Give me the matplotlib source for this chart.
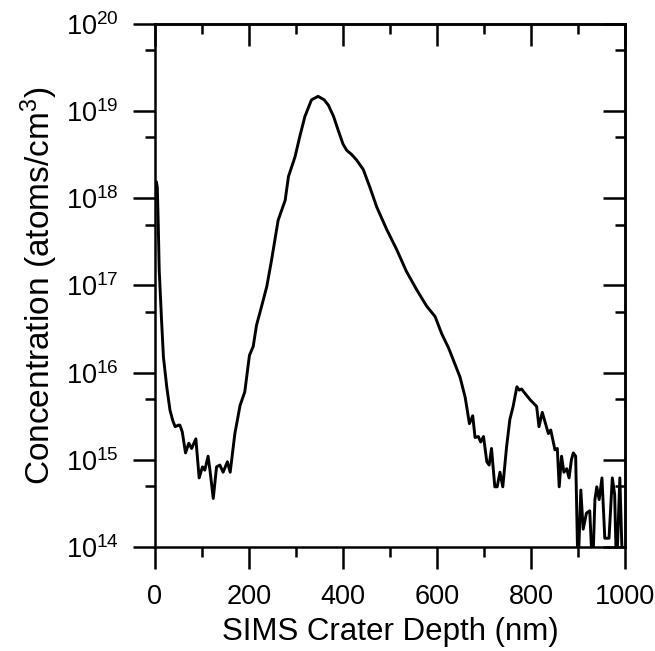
"""SIMS depth profile: concentration vs crater depth."""

import matplotlib
matplotlib.use("Agg")
import matplotlib.pyplot as plt
from matplotlib.ticker import FixedLocator, LogLocator, NullFormatter

plt.rcParams["font.family"] = ["Liberation Sans", "DejaVu Sans"]
plt.rcParams["mathtext.fontset"] = "custom"
plt.rcParams["mathtext.rm"] = "Liberation Sans"
plt.rcParams["mathtext.it"] = "Liberation Sans:italic"
plt.rcParams["mathtext.bf"] = "Liberation Sans:bold"

# depth (nm) and concentration (atoms/cm^3)
depth = [
    0, 3, 5, 7, 9, 14, 18, 25, 32, 38, 43, 50, 53, 58, 65, 72, 78, 87, 94,
    101, 106, 113, 117, 124, 131, 138, 145, 154, 160, 170, 181, 191, 201,
    209, 216, 227, 238, 248, 262, 277, 284, 298, 308, 319, 333, 347, 360,
    369, 380, 390, 400, 408, 418, 429, 443, 457, 472, 493, 514, 535, 557,
    578, 596, 610, 625, 637, 649, 660, 669, 676, 681, 688, 693, 699, 706,
    711, 716, 723, 728, 734, 740, 748, 755, 762, 770, 775, 780, 787, 798,
    812, 817, 824, 837, 842, 851, 856, 860, 865, 870, 876, 881, 886, 890,
    895, 900, 906, 911, 918, 925, 931, 936, 940, 945, 951, 957, 966, 973,
    978, 982, 989, 995, 998,
]
concentration = [
    1.26e18, 1.55e18, 1.32e18, 5.0e17, 1.51e17, 3.98e16, 1.51e16, 6.9e15,
    3.7e15, 2.8e15, 2.4e15, 2.5e15, 2.5e15, 2.1e15, 1.2e15, 1.55e15, 1.35e15,
    1.74e15, 6.2e14, 8.3e14, 7.6e14, 1.1e15, 7.6e14, 3.6e14, 8.3e14, 8.7e14,
    7.2e14, 9.5e14, 7.2e14, 2.0e15, 4.2e15, 6.0e15, 1.58e16, 2.0e16, 3.5e16,
    5.8e16, 9.8e16, 1.95e17, 5.6e17, 9.5e17, 1.78e18, 3.0e18, 5.1e18, 8.7e18,
    1.35e19, 1.48e19, 1.35e19, 1.17e19, 8.7e18, 6.0e18, 4.2e18, 3.55e18,
    3.2e18, 2.75e18, 2.15e18, 1.35e18, 7.9e17, 4.4e17, 2.6e17, 1.45e17,
    8.9e16, 5.8e16, 4.4e16, 2.8e16, 1.9e16, 1.3e16, 8.9e15, 5.2e15, 2.6e15,
    3.2e15, 1.8e15, 1.85e15, 1.6e15, 1.85e15, 9.5e14, 8.7e14, 1.35e15,
    4.9e14, 4.9e14, 7.2e14, 4.9e14, 1.4e15, 2.9e15, 4.1e15, 6.9e15, 6.3e15,
    6.5e15, 5.8e15, 4.9e15, 4.1e15, 2.4e15, 3.5e15, 2.0e15, 2.2e15, 1.3e15,
    1.35e15, 4.9e14, 1.1e15, 7.2e14, 7.9e14, 6.2e14, 1.0e15, 1.2e15, 1.1e15,
    5e13, 4.5e14, 1.6e14, 2.45e14, 2.6e14, 5e13, 3.5e14, 4.9e14, 3.5e14,
    6.2e14, 1.26e14, 1.26e14, 6.2e14, 4.0e14, 5e13, 6.2e14, 5e13, 5e13,
]

x_major = [0, 200, 400, 600, 800, 1000]
x_minor = [100, 300, 500, 700, 900]

fig = plt.figure(figsize=(6.55, 6.51), dpi=100)
ax = fig.add_axes([0.2366, 0.1598, 0.7176, 0.8033])

ax.plot(depth, concentration, color="black", lw=2.1, solid_joinstyle="round")

ax.set_yscale("log")
ax.set_xlim(0, 1000)
ax.set_ylim(1e14, 1e20)

ax.xaxis.set_major_locator(FixedLocator(x_major))
ax.xaxis.set_minor_locator(FixedLocator(x_minor))
ax.yaxis.set_major_locator(LogLocator(base=10, numticks=10))
ax.yaxis.set_minor_locator(LogLocator(base=10, subs=[5], numticks=10))
ax.yaxis.set_minor_formatter(NullFormatter())

for s in ax.spines.values():
    s.set_linewidth(1.8)

ax.tick_params(which="major", direction="out", length=16, width=1.8,
               labelsize=19.5)
ax.tick_params(axis="x", which="major", pad=11)
ax.tick_params(axis="y", which="major", pad=10)
ax.tick_params(which="minor", direction="out", length=7.5, width=1.8)

# top and right: inward ticks without labels
top = ax.secondary_xaxis("top")
top.xaxis.set_major_locator(FixedLocator(x_major))
top.xaxis.set_minor_locator(FixedLocator(x_minor))
top.tick_params(which="major", direction="in", length=16, width=1.8, labeltop=False)
top.tick_params(which="minor", direction="in", length=7.5, width=1.8)
top.spines["top"].set_linewidth(1.8)

right = ax.secondary_yaxis("right")
right.yaxis.set_major_locator(LogLocator(base=10, numticks=10))
right.yaxis.set_minor_locator(LogLocator(base=10, subs=[5], numticks=10))
right.yaxis.set_minor_formatter(NullFormatter())
right.tick_params(which="major", direction="in", length=16, width=1.8, labelright=False)
right.tick_params(which="minor", direction="in", length=7.5, width=1.8)
right.spines["right"].set_linewidth(1.8)

ax.set_xlabel("SIMS Crater Depth (nm)", fontsize=22.5, labelpad=5)
ax.set_ylabel("Concentration (atoms/cm$^3$)", fontsize=24, labelpad=4)

fig.savefig("out.png", dpi=100)
